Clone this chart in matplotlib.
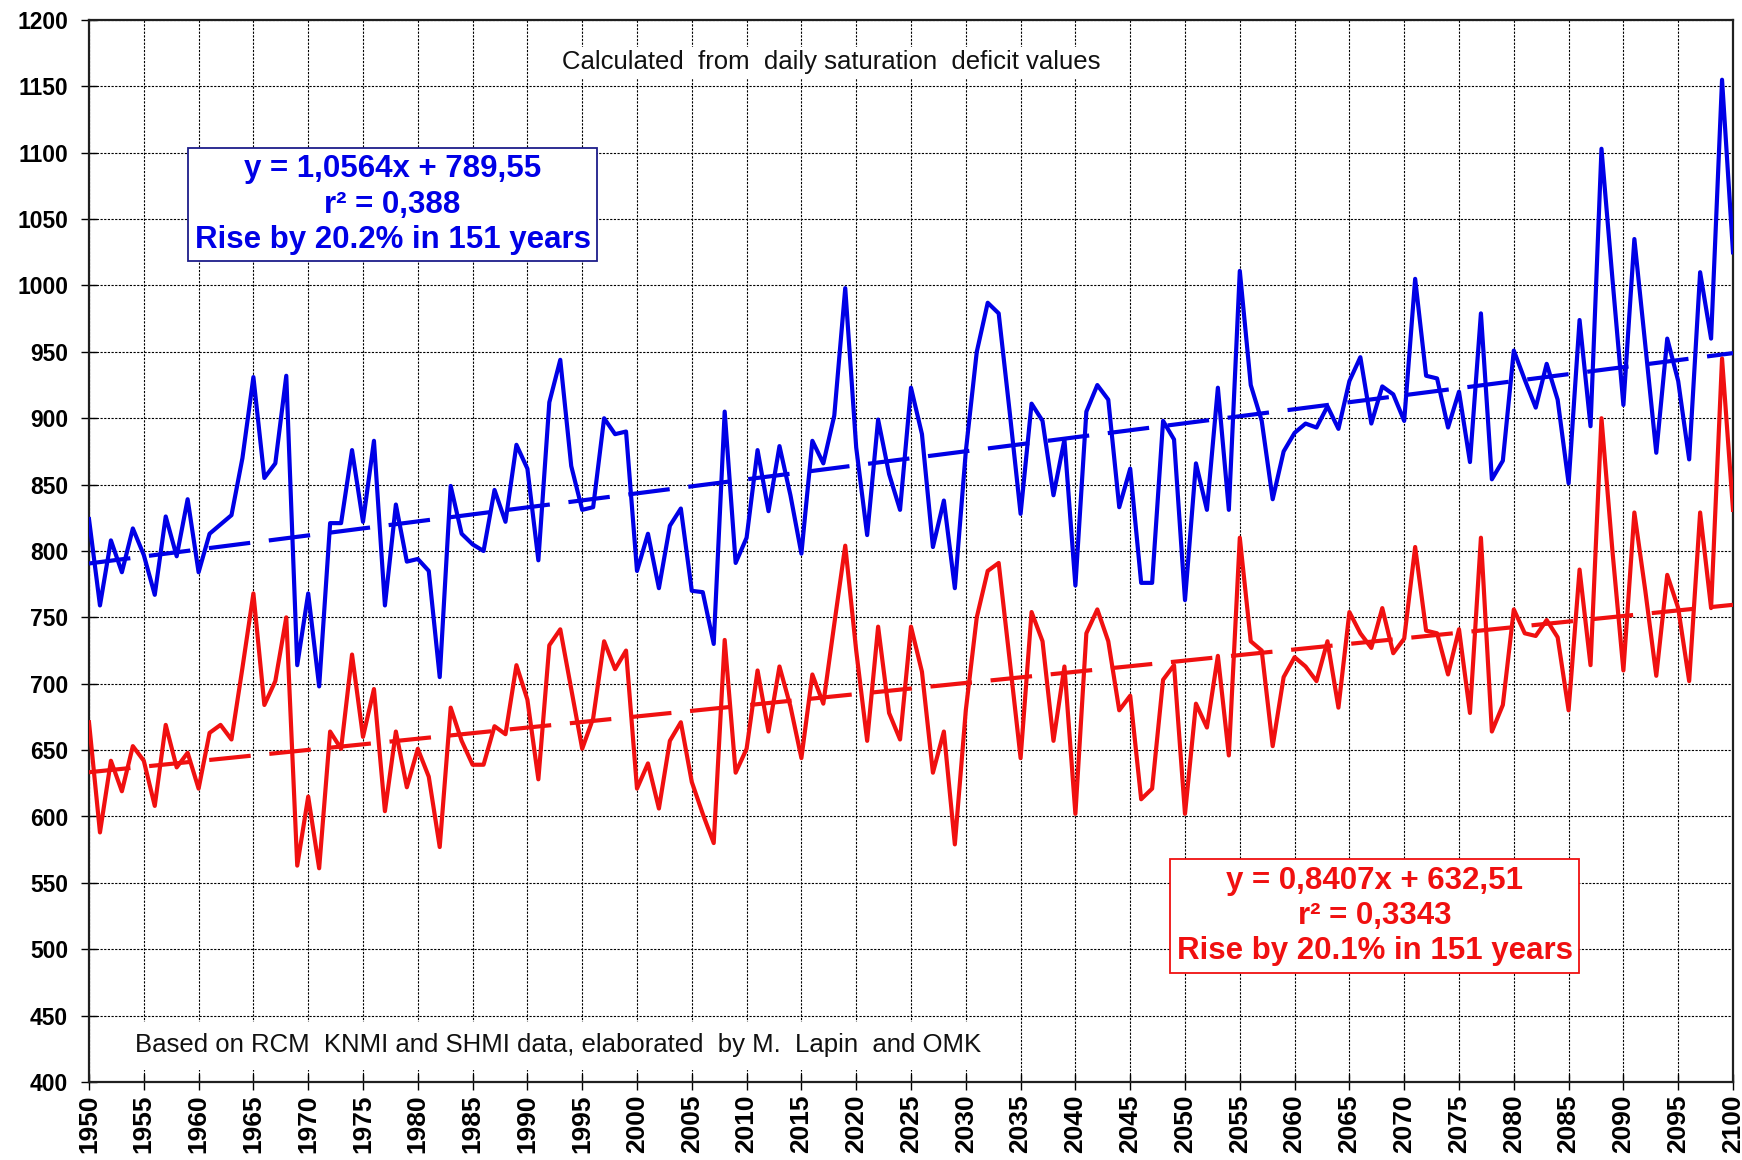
import numpy as np
import matplotlib
matplotlib.use("Agg")
import matplotlib.pyplot as plt
from matplotlib import font_manager
from matplotlib.patches import Rectangle

# ---------------- data ----------------
years = np.arange(1950, 2101)

blue_values = [
    824, 759, 808, 784, 817, 797, 767, 826, 796, 839,   # 1950-1959
    784, 813, 820, 827, 870, 931, 855, 866, 932, 714,   # 1960-1969
    768, 698, 821, 821, 876, 822, 883, 759, 835, 792,   # 1970-1979
    794, 785, 705, 849, 813, 805, 800, 846, 822, 880,   # 1980-1989
    862, 793, 912, 944, 864, 831, 833, 900, 888, 890,   # 1990-1999
    785, 813, 772, 819, 832, 770, 769, 730, 905, 791,   # 2000-2009
    810, 876, 830, 879, 842, 798, 883, 866, 902, 998,   # 2010-2019
    878, 812, 899, 858, 831, 923, 888, 803, 838, 772,   # 2020-2029
    875, 950, 987, 979, 905, 828, 911, 898, 842, 884,   # 2030-2039
    774, 905, 925, 914, 833, 862, 776, 776, 898, 884,   # 2040-2049
    763, 866, 831, 923, 831, 1011, 925, 898, 839, 875,  # 2050-2059
    889, 896, 893, 909, 892, 928, 946, 896, 924, 918,   # 2060-2069
    898, 1005, 932, 930, 893, 920, 867, 979, 854, 868,  # 2070-2079
    951, 929, 908, 941, 914, 851, 974, 894, 1103, 1005, # 2080-2089
    910, 1035, 955, 874, 960, 928, 869, 1010, 960, 1155,# 2090-2099
    1025,                                               # 2100
]

red_values = [
    671, 588, 642, 619, 653, 642, 608, 669, 637, 648,   # 1950-1959
    621, 663, 669, 658, 712, 768, 684, 702, 750, 563,   # 1960-1969
    615, 561, 664, 651, 722, 660, 696, 604, 664, 622,   # 1970-1979
    651, 630, 577, 682, 657, 639, 639, 668, 662, 714,   # 1980-1989
    688, 628, 729, 741, 696, 651, 674, 732, 711, 725,   # 1990-1999
    621, 640, 606, 657, 671, 626, 602, 580, 733, 633,   # 2000-2009
    651, 710, 664, 713, 683, 644, 707, 685, 745, 804,   # 2010-2019
    725, 657, 743, 678, 658, 743, 709, 633, 664, 579,   # 2020-2029
    680, 750, 785, 791, 718, 644, 754, 732, 657, 713,   # 2030-2039
    602, 738, 756, 732, 680, 691, 613, 621, 703, 714,   # 2040-2049
    602, 685, 667, 721, 646, 810, 732, 725, 653, 705,   # 2050-2059
    720, 713, 702, 732, 682, 754, 738, 727, 757, 723,   # 2060-2069
    734, 803, 740, 738, 707, 741, 678, 810, 664, 684,   # 2070-2079
    756, 738, 736, 748, 735, 680, 786, 714, 900, 800,   # 2080-2089
    710, 829, 770, 706, 782, 757, 702, 829, 757, 945,   # 2090-2099
    831,                                                # 2100
]

# trend equations as printed on the chart (x = 1 .. 151)
blue_slope, blue_intercept = 1.0564, 789.55
red_slope, red_intercept = 0.8407, 632.51

x_ticks = list(range(1950, 2101, 5))
y_ticks = list(range(400, 1201, 50))

blue_label = "y = 1,0564x + 789,55\nr² = 0,388\nRise by 20.2% in 151 years"
red_label = "y = 0,8407x + 632,51\nr² = 0,3343\nRise by 20.1% in 151 years"
top_note = "Calculated  from  daily saturation  deficit values"
bottom_note = "Based on RCM  KNMI and SHMI data, elaborated  by M.  Lapin  and OMK"

# ---------------- fonts ----------------
def has_font(name):
    try:
        font_manager.findfont(font_manager.FontProperties(family=name),
                              fallback_to_default=False)
        return True
    except Exception:
        return False

BASE = "Liberation Sans" if has_font("Liberation Sans") else "DejaVu Sans"
NARROW = "Liberation Sans Narrow" if has_font("Liberation Sans Narrow") else None
note_family = [NARROW, BASE] if NARROW else [BASE]
note_size = 21.5 if NARROW else 18.5

plt.rcParams["font.family"] = [BASE, "DejaVu Sans"]

# ---------------- figure ----------------
W, H = 1742, 1160
fig = plt.figure(figsize=(W / 100, H / 100), dpi=100)
left, right, top, bottom = 89, 1733, 20, 1082
ax = fig.add_axes([left / W, 1 - bottom / H, (right - left) / W, (bottom - top) / H])

ax.set_xlim(1950, 2100)
ax.set_ylim(400, 1200)
ax.set_xticks(x_ticks)
ax.set_yticks(y_ticks)
ax.set_xticklabels([str(t) for t in x_ticks], rotation=90, fontsize=19,
                   fontweight="bold")
ax.set_yticklabels([str(t) for t in y_ticks], fontsize=16.5, fontweight="bold")
ax.tick_params(axis="x", direction="inout", length=12, width=1.0, pad=3)
ax.tick_params(axis="y", direction="inout", length=12, width=1.0, pad=9)

ax.set_axisbelow(True)
ax.grid(True, color="black", linestyle=(0, (2.0, 1.3)), linewidth=0.8)
for sp in ax.spines.values():
    sp.set_linewidth(1.6)
    sp.set_color("#202020")

blue_c = "#0000e6"
red_c = "#f01010"

ax.plot(years, blue_values, color=blue_c, lw=3.0, zorder=4)
ax.plot(years, red_values, color=red_c, lw=3.0, zorder=4)

idx = np.arange(1, len(years) + 1)
ax.plot(years, blue_slope * idx + blue_intercept, color=blue_c, lw=3.0,
        linestyle=(0, (10, 4.5)), zorder=3)
ax.plot(years, red_slope * idx + red_intercept, color=red_c, lw=3.0,
        linestyle=(0, (10, 4.5)), zorder=3)

# annotation boxes
ax.text(1977.7, 1061, blue_label, ha="center", va="center", color=blue_c,
        fontsize=22.5, fontweight="bold", linespacing=1.22, zorder=6,
        bbox=dict(boxstyle="square,pad=0.22", fc="white", ec="#1c1c8a", lw=1.3))
ax.text(2067.3, 525, red_label, ha="center", va="center", color=red_c,
        fontsize=22.5, fontweight="bold", linespacing=1.22, zorder=6,
        bbox=dict(boxstyle="square,pad=0.22", fc="white", ec=red_c, lw=1.3))

ax.text(2017.7, 1168, top_note, ha="center", va="center", color="#111111",
        fontsize=note_size, family=note_family, zorder=6,
        bbox=dict(boxstyle="square,pad=0.15", fc="white", ec="none"))

ax.add_patch(Rectangle((1950.3, 409), 82.3, 36, facecolor="white",
                       edgecolor="none", zorder=2))
ax.text(1954.2, 427.5, bottom_note, ha="left", va="center", color="#111111",
        fontsize=note_size, family=note_family, zorder=6)

fig.savefig("out.png", dpi=100, facecolor="white")
